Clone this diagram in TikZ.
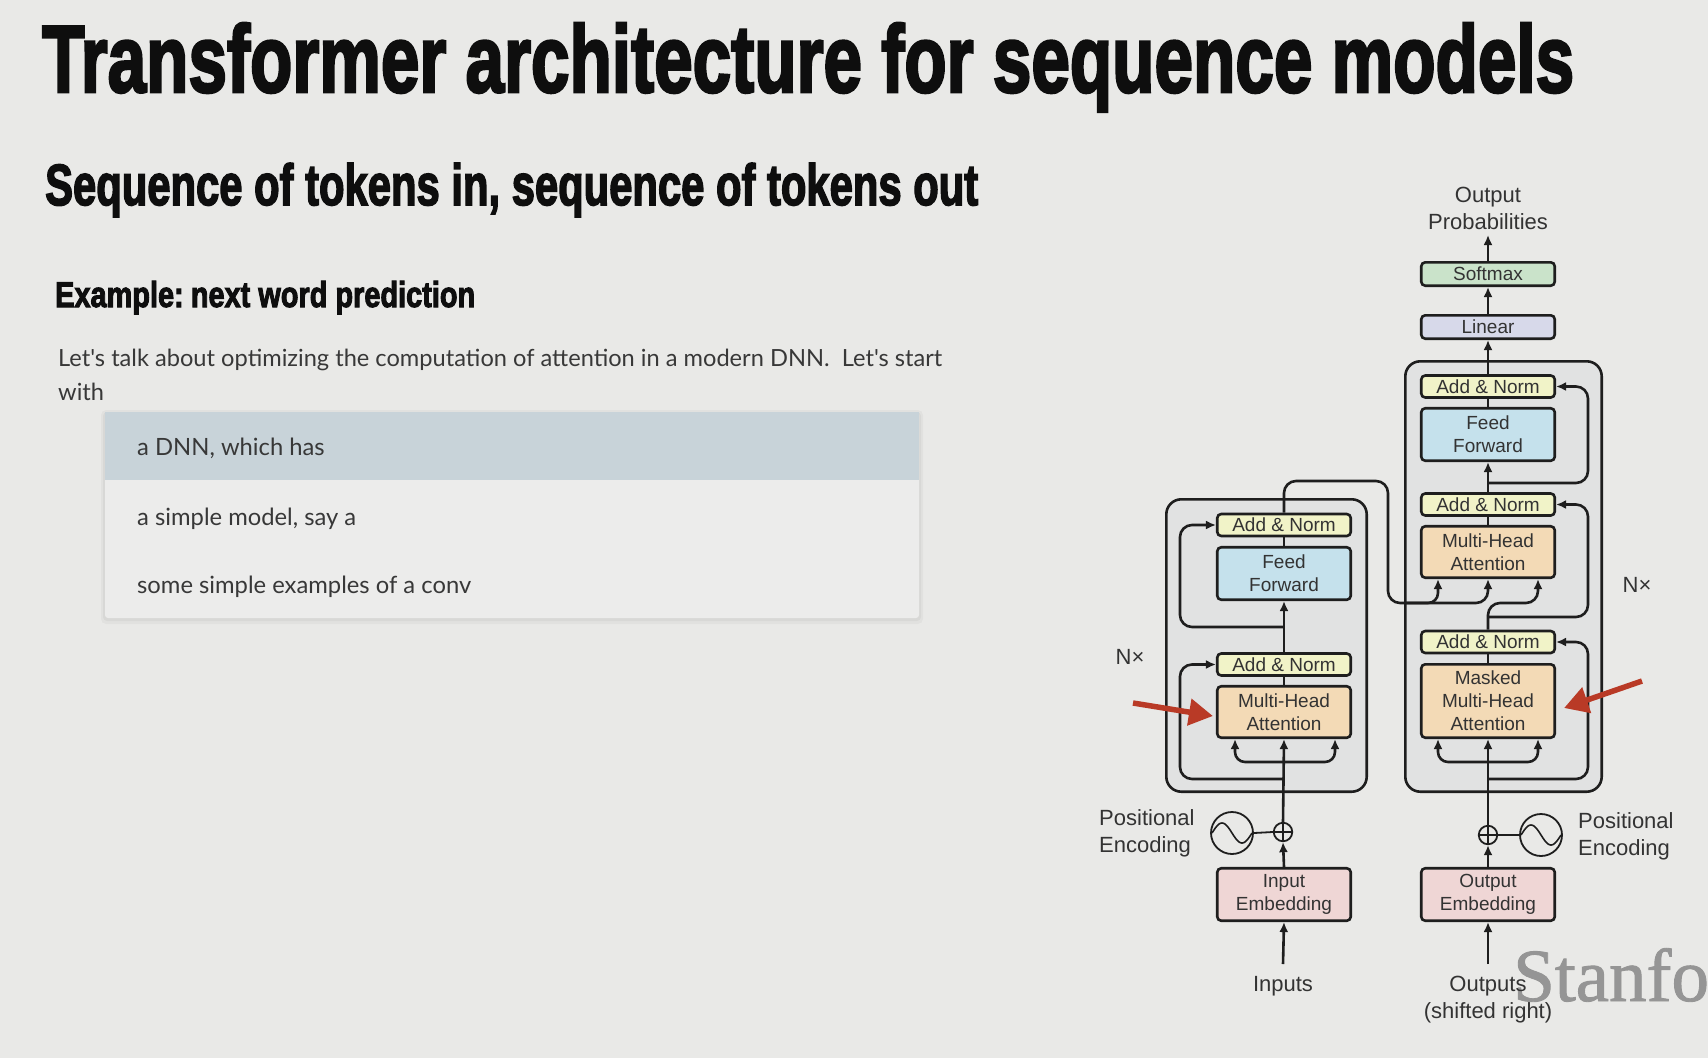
\documentclass[tikz,border=0pt]{standalone}
\usepackage{fontspec}
\usepackage{graphicx}
\usetikzlibrary{arrows.meta}
\setmainfont{Liberation Sans}
\newfontfamily\headfont{Liberation Sans}[BoldFeatures={FakeBold=3}]
\newfontfamily\bodyfont{Lato}
\newfontfamily\markfont{Liberation Serif}[FakeBold=1.2]

\definecolor{bg}{HTML}{E9E9E7}
\definecolor{ink}{HTML}{1E1E1E}
\definecolor{dtxt}{HTML}{333333}
\definecolor{anC}{HTML}{F1F3C8}
\definecolor{ffC}{HTML}{C5E1EC}
\definecolor{mhaC}{HTML}{F3DAB6}
\definecolor{embC}{HTML}{EFD6D5}
\definecolor{smC}{HTML}{CAE3CA}
\definecolor{linC}{HTML}{D7D9EA}
\definecolor{stackC}{HTML}{E1E2E2}
\definecolor{redC}{HTML}{B93A26}
\definecolor{hiC}{HTML}{C8D3D9}
\definecolor{rowC}{HTML}{ECECEB}
\definecolor{markC}{HTML}{959595}
\definecolor{headC}{HTML}{0E0E0E}
\definecolor{bodyC}{HTML}{383838}

% natural widths of two text lines, used to size the body fonts
\newlength\lenIntro
\newlength\lenItem
\AtBeginDocument{%
  \settowidth\lenIntro{\bodyfont\fontsize{20pt}{24pt}\selectfont Let's talk about optimizing the computation of attention in a modern DNN.\ \ Let's start}%
  \global\lenIntro=\lenIntro
  \settowidth\lenItem{\bodyfont\fontsize{20pt}{24pt}\selectfont some simple examples of a conv}%
  \global\lenItem=\lenItem
}

\begin{document}
\begin{tikzpicture}[x=1pt,y=-1pt,
  conn/.style={draw=ink, line width=2.6pt, -{Latex[length=10pt,width=9pt]}},
  wire/.style={draw=ink, line width=2.6pt},
  blk/.style={draw=ink, line width=2.6pt, rounded corners=4pt, minimum width=133.5pt,
    inner sep=0pt, align=center, text=dtxt, font=\fontsize{19}{23}\selectfont},
  addnorm/.style={blk, fill=anC, minimum height=22pt},
  ffwd/.style={blk, fill=ffC, minimum height=52.5pt},
  mha/.style={blk, fill=mhaC, minimum height=51.5pt},
  emb/.style={blk, fill=embC, minimum height=52.5pt},
  stackbox/.style={draw=ink, line width=2.6pt, fill=stackC, rounded corners=15pt},
  lbl/.style={text=dtxt, font=\fontsize{22}{27}\selectfont, inner sep=0pt, align=center},
  redarrow/.style={draw=redC, line width=5.5pt, -{Triangle[length=24pt,width=26pt]}},
  plus/.style={circle, draw=ink, line width=1.8pt, minimum size=18.5pt, inner sep=0pt},
  wave/.style={circle, draw=ink, line width=1.8pt, minimum size=42pt, inner sep=0pt},
  heading/.style={anchor=base west, inner sep=0pt, text=headC},
  bodytext/.style={anchor=base west, inner sep=0pt, text=bodyC},
]
\pgfmathsetmacro\bodysz{884/\lenIntro*20}
\pgfmathsetmacro\bodyskip{1.2*\bodysz}
\pgfmathsetmacro\itemsz{334/\lenItem*20}
\pgfmathsetmacro\itemskip{1.2*\itemsz}

\useasboundingbox (0,0) rectangle (1708,1058);
\fill[bg] (0,0) rectangle (1708,1058);

% ---------- headings ----------
\node[heading] (title) at (42,92)
  {\resizebox{1532pt}{69pt}{\headfont\bfseries\fontsize{100}{100}\selectfont Transformer architecture for sequence models}};
\node[heading] (subtitle) at (45,205)
  {\resizebox{933pt}{42pt}{\headfont\bfseries\fontsize{60}{60}\selectfont Sequence of tokens in, sequence of tokens out}};
\node[heading] (example) at (55,307)
  {\resizebox{420pt}{26pt}{\headfont\bfseries\fontsize{40}{40}\selectfont Example:\kern-5pt{} next word prediction}};

\node[bodytext, font=\bodyfont\fontsize{\bodysz pt}{\bodyskip pt}\selectfont] (intro1) at (58,366)
  {Let's talk about optimizing the computation of attention in a modern DNN.\ \ Let's start};
\node[bodytext, font=\bodyfont\fontsize{\bodysz pt}{\bodyskip pt}\selectfont] (intro2) at (58,400) {with};

% ---------- suggestion list ----------
\fill[black, opacity=0.03, rounded corners=5pt] (101,410) rectangle (923,624);
\fill[black, opacity=0.04, rounded corners=4pt] (103,412) rectangle (921,621);
\fill[rowC, rounded corners=3pt] (105,412) rectangle (919,618);
\fill[hiC] (105,412) rectangle (919,480);
\node[bodytext, font=\bodyfont\fontsize{\itemsz pt}{\itemskip pt}\selectfont] (item1) at (137,455) {a DNN, which has};
\node[bodytext, font=\bodyfont\fontsize{\itemsz pt}{\itemskip pt}\selectfont] (item2) at (137,525) {a simple model, say a};
\node[bodytext, font=\bodyfont\fontsize{\itemsz pt}{\itemskip pt}\selectfont] (item3) at (137,593) {some simple examples of a conv};

% ---------- watermark ----------
\node[anchor=base west, inner sep=0pt, text=markC, font=\markfont\fontsize{75}{75}\selectfont] (mark) at (1513,1001) {Stanfo};

% ---------- encoder / decoder stacks ----------
\draw[stackbox] (1166.3,499.3) rectangle (1366.7,791.7);
\draw[stackbox] (1405.3,361.3) rectangle (1601.7,791.7);

% encoder blocks
\node[addnorm] (encAN2) at (1284,525) {Add \& Norm};
\node[ffwd]    (encFF)  at (1284,573.5) {Feed\\Forward};
\node[addnorm] (encAN1) at (1284,664.5) {Add \& Norm};
\node[mha]     (encMHA) at (1284,712) {Multi-Head\\Attention};
\node[emb]     (inEmb)  at (1284,894.5) {Input\\Embedding};

% decoder blocks
\node[blk, fill=smC, minimum height=23.4pt]  (softmax) at (1488,274) {Softmax};
\node[blk, fill=linC, minimum height=23.4pt] (linear)  at (1488,327) {Linear};
\node[addnorm] (decAN3)  at (1488,386.5) {Add \& Norm};
\node[ffwd]    (decFF)   at (1488,434.5) {Feed\\Forward};
\node[addnorm] (decAN2)  at (1488,504.5) {Add \& Norm};
\node[mha]     (decMHA)  at (1488,552) {Multi-Head\\Attention};
\node[addnorm] (decAN1)  at (1488,642) {Add \& Norm};
\node[mha, minimum height=73.4pt] (maskMHA) at (1488,701) {Masked\\Multi-Head\\Attention};
\node[emb]     (outEmb)  at (1488,894.5) {Output\\Embedding};

% labels
\node[lbl, anchor=south, inner ysep=5pt] (outprob) at (1488,235) {Output\\Probabilities};
\node[lbl, anchor=north, inner ysep=12pt] (inputs) at (1283,964) {Inputs};
\node[lbl, anchor=north, inner ysep=12pt] (outputs) at (1488,964) {Outputs\\(shifted right)};
\node[lbl, anchor=north west, align=left] (peL) at (1099,809) {Positional\\Encoding};
\node[lbl, anchor=north west, align=left] (peR) at (1578,812) {Positional\\Encoding};
\node[lbl] (nxL) at (1130,657) {N×};
\node[lbl] (nxR) at (1637,585) {N×};

% positional encoding: sum nodes and sine icons
\node[plus] (encPlus) at (1283,832) {};
\node[plus] (decPlus) at (1488,835) {};
\node[wave] (encSin) at (1232,833) {};
\node[wave] (decSin) at (1541,835) {};
\foreach \p in {encPlus,decPlus}{
  \draw[ink, line width=1.6pt] (\p.north) -- (\p.south) (\p.west) -- (\p.east);
}
\draw[ink, line width=1.6pt] plot[smooth, domain=-1:1, samples=41] ({1232+20*\x},{833+10*sin(180*\x)});
\draw[ink, line width=1.6pt] plot[smooth, domain=-1:1, samples=41] ({1541+20*\x},{835+10*sin(180*\x)});
\draw[ink, line width=1.8pt] (encSin.east) -- (encPlus.west);
\draw[ink, line width=1.8pt] (decPlus.east) -- (decSin.west);

% ---------- encoder connections ----------
\draw[conn] (inputs.north) -- (inEmb.south);
\draw[conn] (inEmb.north) -- (encPlus.south);
\draw[conn] (encPlus.north) -- (encMHA.south);
\draw[wire] (encMHA.north) -- (encAN1.south);
\draw[conn] (encAN1.north) -- (encFF.south);
\draw[wire] (encFF.north) -- (encAN2.south);

\coordinate (eBr) at (1284,762);
\coordinate (eK)  at (1235,762);
\coordinate (eQ)  at (1335,762);
\draw[conn, rounded corners=10pt] (eBr) -- (eK) -- (eK |- encMHA.south);
\draw[conn, rounded corners=10pt] (eBr) -- (eQ) -- (eQ |- encMHA.south);

\coordinate (eR1a) at (1284,779);
\coordinate (eR1b) at (1180,779);
\draw[conn, rounded corners=12pt] (eR1a) -- (eR1b) |- (encAN1.west);
\coordinate (eR2a) at (1284,627);
\coordinate (eR2b) at (1180,627);
\draw[conn, rounded corners=12pt] (eR2a) -- (eR2b) |- (encAN2.west);

% encoder output into the decoder attention
\coordinate (eo1) at (1284,481);
\coordinate (eo2) at (1388,481);
\coordinate (eo3) at (1388,603);
\coordinate (eo4) at (1405,603);
\coordinate (dK)  at (1438,603);
\coordinate (dV)  at (1488,603);
\coordinate (dQ)  at (1538,603);
\draw[conn, rounded corners=12pt] (encAN2.north) -- (eo1) -- (eo2) -- (eo3) -- (dV) -- (dV |- decMHA.south);
\draw[conn, rounded corners=10pt] (eo4) -- (dK) -- (dK |- decMHA.south);
\draw[conn, rounded corners=12pt] (decAN1.north) -- (dV) -- (dQ) -- (dQ |- decMHA.south);

% ---------- decoder connections ----------
\draw[conn] (outputs.north) -- (outEmb.south);
\draw[conn] (outEmb.north) -- (decPlus.south);
\draw[conn] (decPlus.north) -- (maskMHA.south);
\draw[wire] (maskMHA.north) -- (decAN1.south);
\draw[wire] (decMHA.north) -- (decAN2.south);
\draw[conn] (decAN2.north) -- (decFF.south);
\draw[wire] (decFF.north) -- (decAN3.south);
\draw[conn] (decAN3.north) -- (linear.south);
\draw[conn] (linear.north) -- (softmax.south);
\draw[conn] (softmax.north) -- (outprob.south);

\coordinate (dBr) at (1488,762);
\coordinate (mK)  at (1438,762);
\coordinate (mQ)  at (1538,762);
\draw[conn, rounded corners=10pt] (dBr) -- (mK) -- (mK |- maskMHA.south);
\draw[conn, rounded corners=10pt] (dBr) -- (mQ) -- (mQ |- maskMHA.south);

\coordinate (dR1a) at (1488,779);
\coordinate (dR1b) at (1588,779);
\draw[conn, rounded corners=12pt] (dR1a) -- (dR1b) |- (decAN1.east);
\coordinate (dR2a) at (1488,617);
\coordinate (dR2b) at (1588,617);
\draw[conn, rounded corners=12pt] (dR2a) -- (dR2b) |- (decAN2.east);
\coordinate (dR3a) at (1488,483);
\coordinate (dR3b) at (1588,483);
\draw[conn, rounded corners=12pt] (dR3a) -- (dR3b) |- (decAN3.east);

% ---------- highlight arrows ----------
\coordinate (raL) at (1133,703);
\coordinate (raR) at (1642,681);
\draw[redarrow] (raL) -- ([xshift=-3pt,yshift=-4pt]encMHA.west);
\draw[redarrow] (raR) -- ([xshift=8pt,yshift=-7pt]maskMHA.east);
\end{tikzpicture}
\end{document}
